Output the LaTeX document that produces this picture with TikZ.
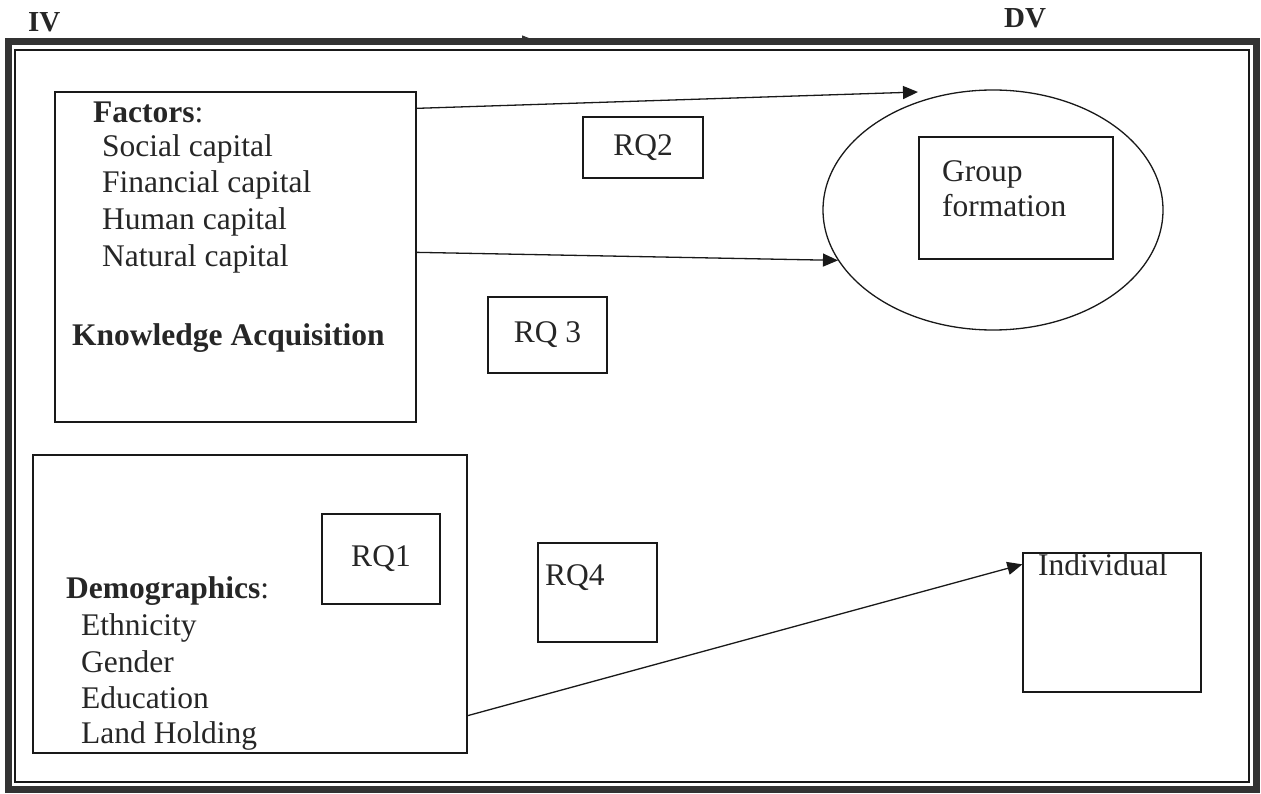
\documentclass[tikz,border=0pt]{standalone}
\usepackage{fontspec}
\setmainfont{Liberation Serif}
\usetikzlibrary{arrows.meta,shapes.geometric}
\newcommand\dfs{\fontsize{31.5}{37}\selectfont}
\newcommand\hfs{\fontsize{29}{34}\selectfont}
\begin{document}
\begin{tikzpicture}[x=1pt,y=-1pt,
  box/.style={draw=black!90, line width=1.3pt, inner sep=0pt},
  txt/.style={anchor=base west, inner sep=0pt, font=\dfs, text=black!85},
  arr/.style={draw=black!90, line width=1.3pt, -{Triangle[length=15pt,width=13pt]}}]
\useasboundingbox (0,0) rectangle (1261,794);
% frame
\draw[line width=7pt, black!80] (8.5,42) rectangle (1256,789);
\draw[line width=1.8pt, black!90] (15,50) rectangle (1249,782);
\coordinate (ta) at (505,40);
\coordinate (tb) at (534,40);
\draw[-{Triangle[length=12pt,width=9pt]}, line width=1pt, black!80] (ta) -- (tb);
% headings
\node[anchor=base west, inner sep=0pt, font=\hfs\bfseries, text=black!85] (iv) at (28,32) {IV};
\node[anchor=base west, inner sep=0pt, font=\hfs\bfseries, text=black!85] (dv) at (1004,28) {DV};
% factors box
\node[box, minimum width=361pt, minimum height=330pt] (factors) at (235.5,257) {};
\node[txt] (tfac) at (93,123) {\textbf{Factors}:};
\node[txt] (tsoc) at (102,157) {Social capital};
\node[txt] (tfin) at (102,193) {Financial capital};
\node[txt] (thum) at (102,230) {Human capital};
\node[txt] (tnat) at (102,267) {Natural capital};
\node[txt, font=\dfs\bfseries] (tka) at (72,345) {Knowledge Acquisition};
% RQ boxes
\node[box, minimum width=120pt, minimum height=61pt, font=\dfs, text=black!85] (rq2) at (643,147.5) {RQ2};
\node[box, minimum width=119pt, minimum height=76pt, font=\dfs, text=black!85] (rq3) at (547.5,335) {RQ 3};
\node[box, minimum width=118pt, minimum height=90pt, font=\dfs, text=black!85] (rq1) at (381,559) {RQ1};
\node[box, minimum width=119pt, minimum height=99pt] (rq4) at (597.5,592.5) {};
\node[txt] (trq4) at (545,585) {RQ4};
% group formation
\node[draw=black!90, line width=1.3pt, ellipse, minimum width=340pt, minimum height=240pt] (ell) at (993,210) {};
\node[box, minimum width=194pt, minimum height=122pt] (group) at (1016,198) {};
\node[txt] (tgr1) at (942,182) {Group};
\node[txt] (tgr2) at (942,217) {formation};
% demographics
\node[box, minimum width=434pt, minimum height=298pt] (demo) at (250,604) {};
\node[txt] (tdem) at (66,598) {\textbf{Demographics}:};
\node[txt] (teth) at (81,635) {Ethnicity};
\node[txt] (tgen) at (81,672) {Gender};
\node[txt] (tedu) at (81,708) {Education};
\node[txt] (tland) at (81,743) {Land Holding};
% individual
\node[box, minimum width=178pt, minimum height=139pt] (indiv) at (1112,622.5) {};
\node[txt] (tind) at (1038,575) {Individual};
% arrows
\coordinate (a1e) at (918,92);
\draw[arr] ([yshift=-17pt]factors.north east) -- (a1e);
\draw[arr] ([yshift=-161pt]factors.north east) -- (ell.198);
\draw[arr] ([yshift=38pt]demo.south east) -- ([yshift=-12pt]indiv.north west);
\end{tikzpicture}
\end{document}
